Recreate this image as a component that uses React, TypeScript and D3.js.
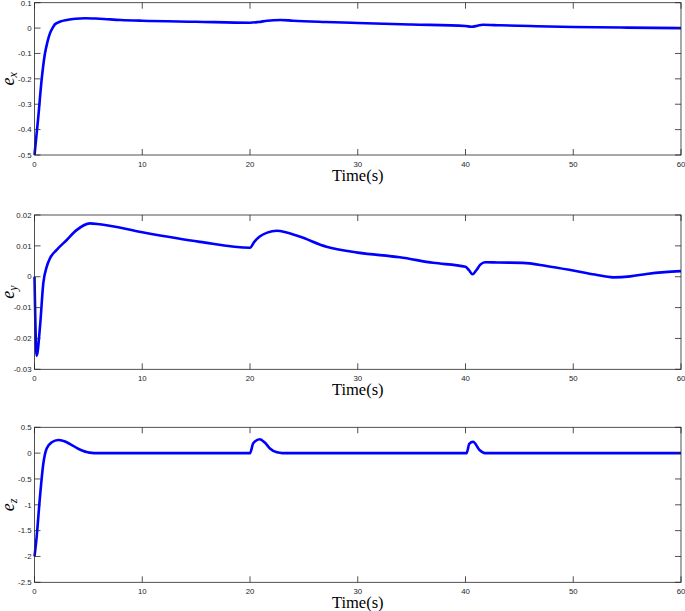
import React from "react";
import * as d3 from "d3";

// ---------- data ----------
const exT = [0, 0.33, 0.67, 0.97, 1.2, 1.44, 1.7, 1.9, 2.4, 3, 3.8, 4.7, 6, 8, 10, 15, 20, 20.8, 21.6, 22.8, 24, 27, 30, 35, 40, 40.55, 41.1, 41.6, 43.2, 46, 50, 55, 60];
const exV = [-0.5, -0.36, -0.2, -0.1, -0.055, -0.02, 0.002, 0.015, 0.026, 0.032, 0.037, 0.039, 0.037, 0.032, 0.029, 0.025, 0.021, 0.024, 0.029, 0.032, 0.029, 0.024, 0.02, 0.014, 0.008, 0.0055, 0.009, 0.013, 0.011, 0.008, 0.004, 0.002, 0.0];

const eyT = [0, 0.2, 0.51, 0.82, 1.13, 1.44, 2.06, 2.99, 3.9, 5.14, 6.07, 10, 15.35, 20, 20.4, 20.9, 21.6, 22.5, 23.4, 24.6, 27.1, 30, 33.9, 37, 40, 40.3, 40.65, 41.0, 41.4, 41.8, 43, 45.3, 47.5, 50, 52, 53.7, 55.3, 56.8, 58.5, 60];
const eyV = [0, -0.0256, -0.0162, -0.002, 0.0032, 0.006, 0.0087, 0.0119, 0.0151, 0.0173, 0.017, 0.0144, 0.0113, 0.0094, 0.0113, 0.013, 0.0143, 0.0149, 0.0143, 0.013, 0.0097, 0.0078, 0.0063, 0.0045, 0.0032, 0.0022, 0.0008, 0.0021, 0.004, 0.0047, 0.0046, 0.0045, 0.0035, 0.002, 0.0007, -0.0002, 0.0001, 0.0009, 0.0015, 0.0018];

const ezT = [0, 0.2, 0.51, 0.82, 1.13, 1.6, 2.2, 2.7, 3.3, 4.2, 5.1, 6, 10, 20, 20.3, 20.9, 21.4, 21.85, 22.5, 23, 30, 40, 40.1, 40.35, 40.7, 41.3, 41.8, 50, 60];
const ezV = [-2, -1.62, -0.84, -0.2, 0.09, 0.21, 0.254, 0.235, 0.176, 0.07, 0.01, 0, 0, 0, 0.19, 0.27, 0.2, 0.09, 0.015, 0, 0, 0, 0, 0.18, 0.22, 0.06, 0, 0, 0];

const xTicks = [0, 10, 20, 30, 40, 50, 60];
const xTickLabels = ["0", "10", "20", "30", "40", "50", "60"];

const exTicks = [-0.5, -0.4, -0.3, -0.2, -0.1, 0, 0.1];
const exTickLabels = ["-0.5", "-0.4", "-0.3", "-0.2", "-0.1", "0", "0.1"];
const eyTicks = [-0.03, -0.02, -0.01, 0, 0.01, 0.02];
const eyTickLabels = ["-0.03", "-0.02", "-0.01", "0", "0.01", "0.02"];
const ezTicks = [-2.5, -2, -1.5, -1, -0.5, 0, 0.5];
const ezTickLabels = ["-2.5", "-2", "-1.5", "-1", "-0.5", "0", "0.5"];

const xLabel = "Time(s)";

// ---------- layout ----------
const W = 685;
const H = 611;
const left = 34.5;
const right = 681;

type PanelProps = {
  top: number;
  bottom: number;
  t: number[];
  v: number[];
  yDomain: [number, number];
  yTicks: number[];
  yTickLabels: string[];
  sub: string;
};

const axisColor = "#262626";
const tickLen = 6;

function Panel({ top, bottom, t, v, yDomain, yTicks, yTickLabels, sub }: PanelProps) {
  const x = d3.scaleLinear().domain([0, 60]).range([left, right]);
  const y = d3.scaleLinear().domain(yDomain).range([bottom, top]);
  const pts = t.map((tt, i) => [tt, v[i]] as [number, number]);
  const line = d3
    .line<[number, number]>()
    .x((d) => x(d[0]))
    .y((d) => y(d[1]))
    .curve(d3.curveMonotoneX);
  const tickFont = "'Liberation Sans', Arial, Helvetica, sans-serif";
  return (
    <g>
      <path d={line(pts) || ""} fill="none" stroke="#0000ff" strokeWidth={2.6} strokeLinejoin="round" />
      <rect x={left} y={top} width={right - left} height={bottom - top} fill="none" stroke={axisColor} strokeWidth={0.8} />
      {xTicks.map((tk, i) => (
        <g key={"x" + i}>
          <line x1={x(tk)} x2={x(tk)} y1={bottom} y2={bottom - tickLen} stroke={axisColor} strokeWidth={0.8} />
          <line x1={x(tk)} x2={x(tk)} y1={top} y2={top + tickLen} stroke={axisColor} strokeWidth={0.8} />
          <text x={x(tk)} y={bottom + 11.5} textAnchor="middle" fontSize={7.8} fontFamily={tickFont} fill={axisColor}>
            {xTickLabels[i]}
          </text>
        </g>
      ))}
      {yTicks.map((tk, i) => (
        <g key={"y" + i}>
          <line x1={left} x2={left + tickLen} y1={y(tk)} y2={y(tk)} stroke={axisColor} strokeWidth={0.8} />
          <line x1={right} x2={right - tickLen} y1={y(tk)} y2={y(tk)} stroke={axisColor} strokeWidth={0.8} />
          <text x={31.5} y={Math.max(y(tk), 3.2)} dy="0.35em" textAnchor="end" fontSize={7.8} fontFamily={tickFont} fill={axisColor}>
            {yTickLabels[i]}
          </text>
        </g>
      ))}
      <text
        x={(left + right) / 2}
        y={bottom + 26}
        textAnchor="middle"
        fontSize={16.5}
        fontFamily="'Liberation Serif', 'DejaVu Serif', serif"
        fill="#000"
      >
        {xLabel}
      </text>
      <text
        transform={`translate(14, ${(top + bottom) / 2}) rotate(-90)`}
        textAnchor="middle"
        fontFamily="'Liberation Serif', 'DejaVu Serif', serif"
        fontStyle="italic"
        fill="#000"
      >
        <tspan fontSize={18}>e</tspan>
        <tspan fontSize={12} dy={3}>{sub}</tspan>
      </text>
    </g>
  );
}

export default function App() {
  return (
    <svg
      width={W}
      height={H}
      style={{ position: "absolute", left: 0, top: 0, background: "#fff" }}
    >
      <rect x={0} y={0} width={W} height={H} fill="#fff" />
      <Panel top={2.7} bottom={155} t={exT} v={exV} yDomain={[-0.5, 0.1]} yTicks={exTicks} yTickLabels={exTickLabels} sub="x" />
      <Panel top={215} bottom={369.3} t={eyT} v={eyV} yDomain={[-0.03, 0.02]} yTicks={eyTicks} yTickLabels={eyTickLabels} sub="y" />
      <Panel top={427.3} bottom={582.3} t={ezT} v={ezV} yDomain={[-2.5, 0.5]} yTicks={ezTicks} yTickLabels={ezTickLabels} sub="z" />
    </svg>
  );
}
